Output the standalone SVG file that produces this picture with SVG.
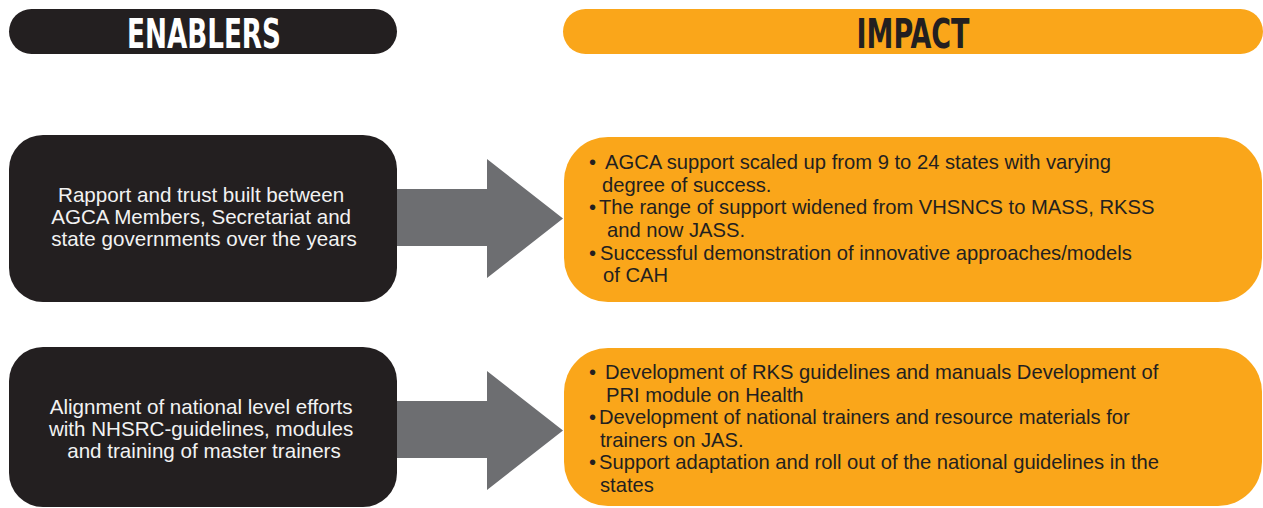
<svg xmlns="http://www.w3.org/2000/svg" width="1263" height="508" viewBox="0 0 1263 508">
  <style>
    .dark { fill: #231f20; }
    .amber { fill: #faa61a; }
    .head { font-family: "DejaVu Sans Condensed", "DejaVu Sans", sans-serif; font-weight: bold; font-size: 41px; text-anchor: middle; }
    .body { font-family: "Liberation Sans", Arial, sans-serif; font-size: 20.2px; }
    .light { fill: #f2f2f2; text-anchor: middle; font-size: 20.6px; }
    .ink { fill: #231f20; }
    .arrow { fill: #6d6e71; }
  </style>

  <!-- column headers -->
  <g id="header-enablers">
    <rect class="dark" x="9" y="9" width="388" height="45" rx="22.5"/>
    <text class="head" x="204" y="48" fill="#ffffff" textLength="154" lengthAdjust="spacingAndGlyphs">ENABLERS</text>
  </g>
  <g id="header-impact">
    <rect class="amber" x="563" y="9" width="700" height="45" rx="22.5"/>
    <text class="head" x="913" y="48" fill="#231f20" textLength="113" lengthAdjust="spacingAndGlyphs">IMPACT</text>
  </g>

  <!-- connectors: block arrows from enablers to impacts -->
  <g id="connectors">
    <polygon class="arrow" points="390,189 487,189 487,159 563,218.5 487,278 487,246 390,246"/>
    <polygon class="arrow" points="390,401 487,401 487,371 563,430.5 487,490 487,458 390,458"/>
  </g>

  <!-- row 1 -->
  <g id="enabler-1">
    <rect class="dark" x="9" y="135" width="388" height="167" rx="34"/>
    <text class="body light">
      <tspan x="204" y="202">Rapport and trust built between</tspan>
      <tspan x="204" y="224">AGCA Members, Secretariat and</tspan>
      <tspan x="204" y="246">state governments over the years</tspan>
    </text>
  </g>
  <g id="impact-1">
    <rect class="amber" x="564" y="137" width="698" height="165" rx="44"/>
    <text class="body ink">
      <tspan x="589" y="169">•</tspan><tspan x="605" y="169">AGCA support scaled up from 9 to 24 states with varying</tspan>
      <tspan x="602" y="192">degree of success.</tspan>
      <tspan x="589" y="214">•</tspan><tspan x="599" y="214">The range of support widened from VHSNCS to MASS, RKSS</tspan>
      <tspan x="607" y="237">and now JASS.</tspan>
      <tspan x="589" y="260">•</tspan><tspan x="600" y="260">Successful demonstration of innovative approaches/models</tspan>
      <tspan x="603" y="282">of CAH</tspan>
    </text>
  </g>

  <!-- row 2 -->
  <g id="enabler-2">
    <rect class="dark" x="9" y="347" width="388" height="160" rx="34"/>
    <text class="body light">
      <tspan x="204" y="414">Alignment of national level efforts</tspan>
      <tspan x="204" y="436">with NHSRC-guidelines, modules</tspan>
      <tspan x="204" y="458">and training of master trainers</tspan>
    </text>
  </g>
  <g id="impact-2">
    <rect class="amber" x="564" y="348" width="698" height="158" rx="44"/>
    <text class="body ink">
      <tspan x="589" y="379">•</tspan><tspan x="605" y="379">Development of RKS guidelines and manuals Development of</tspan>
      <tspan x="606" y="402">PRI module on Health</tspan>
      <tspan x="589" y="424">•</tspan><tspan x="599" y="424">Development of national trainers and resource materials for</tspan>
      <tspan x="600" y="447">trainers on JAS.</tspan>
      <tspan x="589" y="469">•</tspan><tspan x="599" y="469">Support adaptation and roll out of the national guidelines in the</tspan>
      <tspan x="600" y="492">states</tspan>
    </text>
  </g>
</svg>
